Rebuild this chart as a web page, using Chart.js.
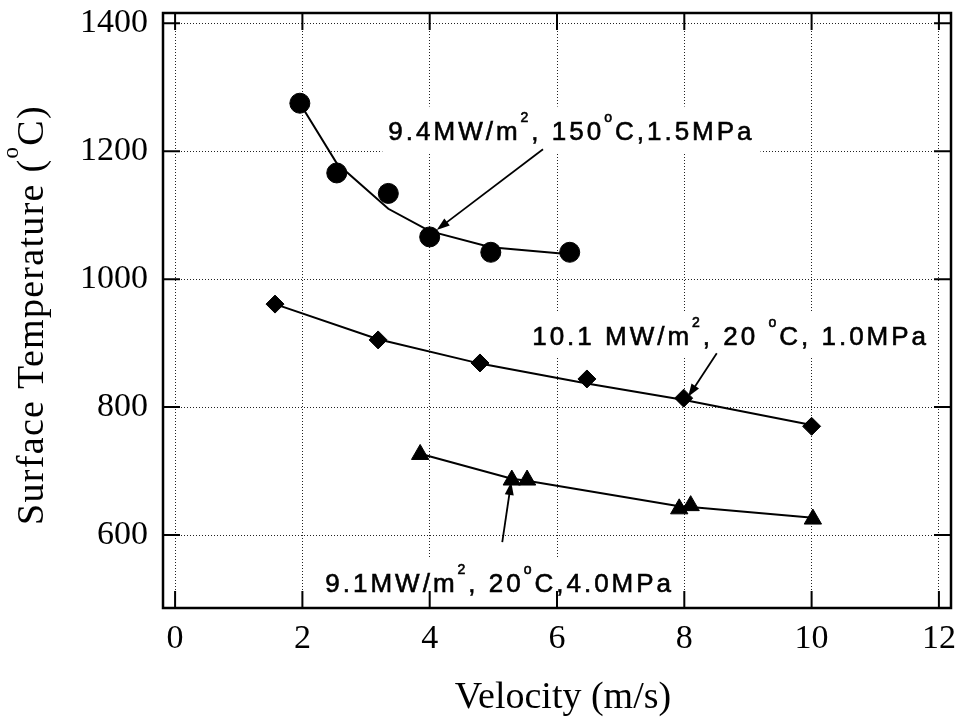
<!DOCTYPE html>
<html>
<head>
<meta charset="utf-8">
<script src="https://cdn.jsdelivr.net/npm/chart.js@4.4.0/dist/chart.umd.min.js"></script>
<style>
  html, body { margin: 0; padding: 0; background: #fff; }
</style>
</head>
<body>
<canvas id="chart" width="966" height="721"></canvas>
<script>
// Axis ticks
const xTicks = [0, 2, 4, 6, 8, 10, 12];
const yTicks = [600, 800, 1000, 1200, 1400];

// 9.4 MW/m2, 150 C, 1.5 MPa (circles)
const velA = [1.96, 2.54, 3.35, 4.0, 4.96, 6.2];
const tempA = [1275, 1166, 1134, 1066, 1042, 1042];
const fitVelA = [1.96, 2.54, 3.35, 4.0, 4.96, 6.2];
const fitTempA = [1275, 1181, 1110, 1075, 1050, 1039];

// 10.1 MW/m2, 20 C, 1.0 MPa (diamonds)
const velB = [1.57, 3.19, 4.79, 6.47, 7.99, 10.0];
const tempB = [961, 905, 869, 844, 814, 770];
const fitVelB = [1.57, 3.19, 4.79, 6.47, 8.0, 10.0];
const fitTempB = [961, 906, 868, 837, 811, 772];

// 9.1 MW/m2, 20 C, 4.0 MPa (triangles)
const velC = [3.85, 5.29, 5.53, 7.92, 8.1, 10.02];
const tempC = [726, 686, 686, 641, 646, 625];
const fitVelC = [3.85, 5.29, 5.53, 7.92, 8.1, 10.02];
const fitTempC = [727, 688, 685, 645, 644, 627];

// annotation text and arrows, in data units
const notes = [
  { at: [3.35, 1217], parts: [["9.4MW/m"], ["2", 1], [", 150"], ["o", 1], ["C,1.5MPa"]],
    arrow: [[5.78, 1203], [4.11, 1077]] },
  { at: [5.61, 897], parts: [["10.1 MW/m"], ["2", 1], [", 20 "], ["o", 1], ["C, 1.0MPa"]],
    arrow: [[8.51, 884], [8.06, 816]] },
  { at: [2.36, 511], parts: [["9.1MW/m"], ["2", 1], [", 20"], ["o", 1], ["C,4.0MPa"]],
    arrow: [[5.14, 589], [5.28, 683]] }
];

const toXY = (xs, ys) => xs.map((x, i) => ({ x: x, y: ys[i] }));

const noteFont = 26;
const noteFamily = "'Liberation Sans', Arial, sans-serif";
const serif = "'Liberation Serif', 'Times New Roman', serif";

function richWidth(ctx, parts, size, family, supScale) {
  let w = 0;
  parts.forEach(p => {
    ctx.font = (p[1] ? Math.round(size * supScale) : size) + 'px ' + family;
    w += ctx.measureText(p[0]).width;
  });
  return w;
}

function richText(ctx, parts, x, y, size, family, supScale, raise, thicken) {
  parts.forEach(p => {
    const s = p[1] ? Math.round(size * supScale) : size;
    const yy = p[1] ? y - size * raise : y;
    ctx.font = s + 'px ' + family;
    ctx.fillText(p[0], x, yy);
    if (thicken) ctx.strokeText(p[0], x, yy);
    x += ctx.measureText(p[0]).width;
  });
}

function arrow(ctx, x1, y1, x2, y2) {
  const a = Math.atan2(y2 - y1, x2 - x1);
  const len = 13, half = 4.5;
  ctx.beginPath();
  ctx.moveTo(x1, y1);
  ctx.lineTo(x2 - Math.cos(a) * len * 0.8, y2 - Math.sin(a) * len * 0.8);
  ctx.lineWidth = 1.8;
  ctx.stroke();
  ctx.beginPath();
  ctx.moveTo(x2, y2);
  ctx.lineTo(x2 - Math.cos(a) * len - Math.sin(a) * half, y2 - Math.sin(a) * len + Math.cos(a) * half);
  ctx.lineTo(x2 - Math.cos(a) * len + Math.sin(a) * half, y2 - Math.sin(a) * len - Math.cos(a) * half);
  ctx.closePath();
  ctx.fill();
}

const decor = {
  id: 'decor',
  beforeDatasetsDraw(chart) {
    // white boxes behind the notes hide the dotted grid
    const ctx = chart.ctx, xs = chart.scales.x, ys = chart.scales.y;
    ctx.save();
    ctx.letterSpacing = '3px';
    ctx.fillStyle = '#fff';
    notes.forEach(n => {
      const x = xs.getPixelForValue(n.at[0]), y = ys.getPixelForValue(n.at[1]);
      const w = richWidth(ctx, n.parts, noteFont, noteFamily, 0.55);
      ctx.fillRect(x - 6, y - noteFont * 1.3, w + 12, noteFont * 1.75);
    });
    ctx.restore();
  },
  afterDatasetsDraw(chart) {
    const ctx = chart.ctx, xs = chart.scales.x, ys = chart.scales.y;
    const a = chart.chartArea;
    ctx.save();
    ctx.fillStyle = '#000';
    ctx.strokeStyle = '#000';

    // notes and arrows
    ctx.letterSpacing = '3px';
    ctx.textBaseline = 'alphabetic';
    ctx.textAlign = 'left';
    notes.forEach(n => {
      ctx.lineWidth = 0.6;
      richText(ctx, n.parts, xs.getPixelForValue(n.at[0]), ys.getPixelForValue(n.at[1]),
        noteFont, noteFamily, 0.55, 0.69, true);
      arrow(ctx, xs.getPixelForValue(n.arrow[0][0]), ys.getPixelForValue(n.arrow[0][1]),
        xs.getPixelForValue(n.arrow[1][0]), ys.getPixelForValue(n.arrow[1][1]));
    });
    ctx.letterSpacing = '0px';

    // frame
    ctx.lineWidth = 2.5;
    ctx.strokeRect(a.left, a.top, a.right - a.left, a.bottom - a.top);

    // inward ticks on all four sides
    const tl = 17;
    ctx.lineWidth = 2;
    ctx.beginPath();
    xTicks.forEach(v => {
      const x = xs.getPixelForValue(v);
      ctx.moveTo(x, a.bottom); ctx.lineTo(x, a.bottom - tl);
      ctx.moveTo(x, a.top); ctx.lineTo(x, a.top + tl);
    });
    yTicks.forEach(v => {
      const y = ys.getPixelForValue(v);
      ctx.moveTo(a.left, y); ctx.lineTo(a.left + tl, y);
      ctx.moveTo(a.right, y); ctx.lineTo(a.right - tl, y);
    });
    ctx.stroke();

    // axis titles
    ctx.textBaseline = 'alphabetic';
    ctx.textAlign = 'left';
    const tSize = 38;
    const xt = [["Velocity (m/s)"]];
    const xw = richWidth(ctx, xt, tSize, serif, 0.6);
    richText(ctx, xt, 563 - xw / 2, 708, tSize, serif, 0.6, 0.66, false);

    ctx.letterSpacing = '1.3px';
    const yt = [["Surface Temperature ("], ["o", 1], ["C)"]];
    const yw = richWidth(ctx, yt, tSize, serif, 0.6);
    ctx.translate(43, 315);
    ctx.rotate(-Math.PI / 2);
    richText(ctx, yt, -yw / 2, 0, tSize, serif, 0.6, 0.66, false);
    ctx.restore();
  }
};

const lineStyle = { showLine: true, borderColor: '#000', borderWidth: 2, pointRadius: 0, tension: 0, fill: false };
const markStyle = { showLine: false, backgroundColor: '#000', borderColor: '#000', borderWidth: 1 };

new Chart(document.getElementById('chart'), {
  type: 'scatter',
  data: {
    datasets: [
      Object.assign({ data: toXY(fitVelA, fitTempA) }, lineStyle),
      Object.assign({ data: toXY(fitVelB, fitTempB) }, lineStyle),
      Object.assign({ data: toXY(fitVelC, fitTempC) }, lineStyle),
      Object.assign({ data: toXY(velA, tempA), pointStyle: 'circle', pointRadius: 10 }, markStyle),
      Object.assign({ data: toXY(velB, tempB), pointStyle: 'rectRot', pointRadius: 9 }, markStyle),
      Object.assign({ data: toXY(velC, tempC), pointStyle: 'triangle', pointRadius: 10 }, markStyle)
    ]
  },
  options: {
    responsive: false,
    animation: false,
    devicePixelRatio: 1,
    layout: { padding: { left: 0, top: 13, right: 15, bottom: 0 } },
    plugins: { legend: { display: false }, tooltip: { enabled: false } },
    scales: {
      x: {
        type: 'linear', min: -0.19, max: 12.19,
        afterBuildTicks: s => { s.ticks = xTicks.map(v => ({ value: v })); },
        afterFit: s => { s.height = 113; s.paddingLeft = 0; s.paddingRight = 0; },
        grid: { color: '#222', lineWidth: 1, drawTicks: false },
        border: { display: false, dash: [1, 2] },
        ticks: { color: '#000', padding: 11, font: { family: serif, size: 34 }, callback: v => String(v) }
      },
      y: {
        type: 'linear', min: 486, max: 1416,
        afterBuildTicks: s => { s.ticks = yTicks.map(v => ({ value: v })); },
        afterFit: s => { s.width = 163; s.paddingTop = 0; s.paddingBottom = 0; },
        grid: { color: '#222', lineWidth: 1, drawTicks: false },
        border: { display: false, dash: [1, 2] },
        ticks: { color: '#000', padding: 15, font: { family: serif, size: 34 }, callback: v => String(v) }
      }
    }
  },
  plugins: [decor]
});
</script>
</body>
</html>
